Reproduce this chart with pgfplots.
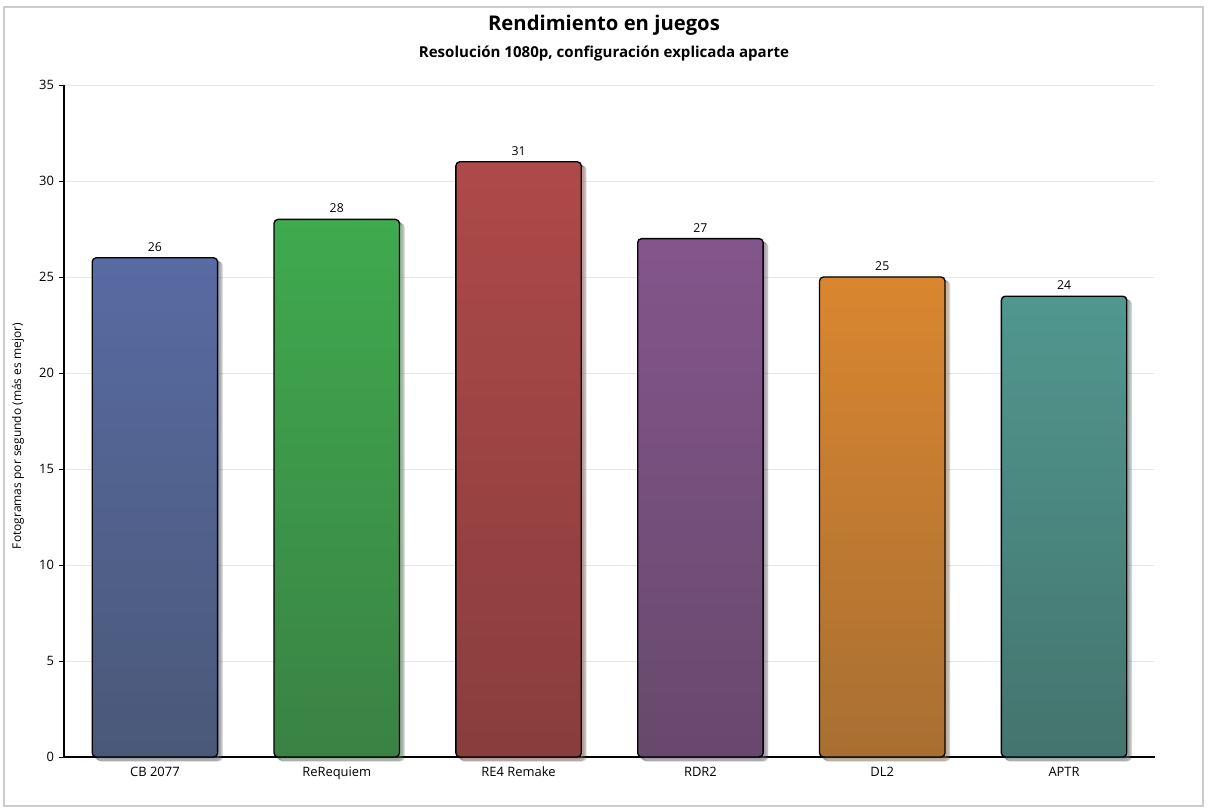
\documentclass[border=0pt]{standalone}
\usepackage{fontspec}
\setmainfont{Open Sans}
\usepackage{pgfplots}
\pgfplotsset{compat=1.18}
\usetikzlibrary{shadows}

\definecolor{blueT}{HTML}{586BA2}
\definecolor{blueB}{HTML}{4A5878}
\definecolor{greenT}{HTML}{3FAA4E}
\definecolor{greenB}{HTML}{3A8244}
\definecolor{redT}{HTML}{AE4949}
\definecolor{redB}{HTML}{893D3D}
\definecolor{purpT}{HTML}{84558C}
\definecolor{purpB}{HTML}{67496C}
\definecolor{orT}{HTML}{DA8630}
\definecolor{orB}{HTML}{A86F32}
\definecolor{tealT}{HTML}{50978F}
\definecolor{tealB}{HTML}{44746E}
\definecolor{gridc}{HTML}{E6E6E6}
\definecolor{framec}{HTML}{CCCCCC}

\pgfplotsset{
  bar/.style={draw=black, line width=1pt, rounded corners=3pt,
    drop shadow={opacity=0.12, shadow xshift=1.5pt, shadow yshift=-1.5pt},
    drop shadow={opacity=0.12, shadow xshift=2.5pt, shadow yshift=-2.5pt},
    drop shadow={opacity=0.12, shadow xshift=3.5pt, shadow yshift=-3pt}},
}

\begin{document}
\begin{tikzpicture}[x=0.75pt,y=0.75pt]
  % canvas and frame (pixel units, origin at the axis corner)
  \fill[white] (-64,-54) rectangle (1147,757);
  \draw[framec,line width=0.9pt] (-60,-49) rectangle (1139,750);

  \begin{axis}[
      at={(0,0)}, anchor=south west,
      scale only axis,
      width=818.25pt, height=504pt,
      xmin=-0.5, xmax=5.5,
      ymin=0, ymax=35,
      ytick={0,5,...,35},
      xtick={0,1,2,3,4,5},
      xticklabels={CB 2077, ReRequiem, RE4 Remake, RDR2, DL2, APTR},
      axis lines*=left,
      axis line style={black, line width=0.8pt},
      x axis line style={-},
      y axis line style={-},
      ymajorgrids,
      grid style={gridc, line width=0.6pt},
      tick align=outside,
      major tick length=4pt,
      xtick style={draw=none},
      ytick style={black, line width=0.6pt},
      tick label style={font=\fontsize{9.7}{11}\selectfont},
      /pgf/number format/assume math mode=true,
      ybar, bar width=0.69, bar shift=0pt,
      nodes near coords,
      every node near coord/.append style={font=\fontsize{9.2}{10}\selectfont, black, yshift=1pt},
      clip=false,
    ]
    \addplot[bar, top color=blueT, bottom color=blueB] coordinates {(0,26)};
    \addplot[bar, top color=greenT, bottom color=greenB] coordinates {(1,28)};
    \addplot[bar, top color=redT, bottom color=redB] coordinates {(2,31)};
    \addplot[bar, top color=purpT, bottom color=purpB] coordinates {(3,27)};
    \addplot[bar, top color=orT, bottom color=orB] coordinates {(4,25)};
    \addplot[bar, top color=tealT, bottom color=tealB] coordinates {(5,24)};
  \end{axis}

  \node[rotate=90, font=\fontsize{9}{10}\selectfont] at (-46,321) {Fotogramas por segundo (más es mejor)};
  \node[font=\bfseries\fontsize{15.2}{18}\selectfont] at (540,732) {Rendimiento en juegos};
  \node[font=\bfseries\fontsize{11.3}{13}\selectfont] at (540,703.5) {Resolución 1080p, configuración explicada aparte};
\end{tikzpicture}
\end{document}
